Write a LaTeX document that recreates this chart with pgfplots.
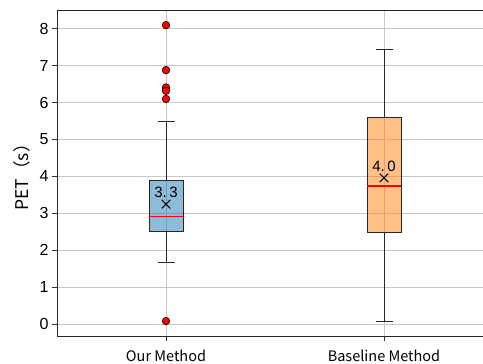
\documentclass[border=0pt]{standalone}
\usepackage{pgfplots}
\pgfplotsset{compat=1.18}
\usepgfplotslibrary{statistics}
\usepackage{fontspec}
\setmainfont{Liberation Sans}
\newfontfamily\cjk{Noto Sans CJK SC}
\definecolor{tabblue}{HTML}{1F77B4}
\definecolor{taborange}{HTML}{FF7F0E}
\definecolor{gridgray}{RGB}{200,200,200}
\begin{document}
\begin{tikzpicture}
\begin{axis}[
  name=ax,
  scale only axis,
  width=426pt, height=326pt,
  xmin=0.5, xmax=2.454,
  ymin=-0.325, ymax=8.51,
  axis x line=box, axis y line=left,
  y axis line style={-},
  axis line style={line width=0.8pt, black!85},
  xtick={1,2},
  xticklabels={Our Method, Baseline Method},
  xticklabel style={font=\cjk\fontsize{14.5}{16}\selectfont, yshift=-5pt},
  ytick={0,1,2,3,4,5,6,7,8},
  yticklabel style={font=\fontsize{16}{18}\selectfont},
  /pgf/number format/assume math mode=true,
  xtick pos=bottom, ytick pos=left,
  tick align=outside,
  major tick length=5pt,
  tick style={black!80, line width=0.8pt},
  grid=major,
  major grid style={gridgray, line width=0.9pt},
  ylabel={\cjk\fontsize{17.5}{19}\selectfont PET（s）},
  ylabel style={yshift=3pt},
  clip=false,
  boxplot/draw direction=y,
]
\addplot+[
  boxplot prepared={draw position=1, lower whisker=1.68, lower quartile=2.50,
    median=2.91, upper quartile=3.90, upper whisker=5.50,
    box extend=0.156, whisker extend=0.078,
    every median/.style={draw=red, line width=1.3pt}},
  draw=black!85, line width=0.8pt, fill=tabblue, fill opacity=0.5,
  mark=*, mark size=3.8pt, mark options={fill=red, draw=black, fill opacity=1, line width=0.6pt},
] table[row sep=\\, y index=0] {8.10\\6.88\\6.41\\6.32\\6.10\\0.08\\};
\addplot+[
  boxplot prepared={draw position=2, lower whisker=0.08, lower quartile=2.49,
    median=3.74, upper quartile=5.59, upper whisker=7.43,
    box extend=0.156, whisker extend=0.078,
    every median/.style={draw=red, line width=1.3pt}},
  draw=black!85, line width=0.8pt, fill=taborange, fill opacity=0.5,
  mark=none,
] coordinates {};
\addplot[only marks, mark=x, mark size=6pt, line width=1pt, black,
  point meta=explicit symbolic,
  nodes near coords,
  nodes near coords style={font=\fontsize{15}{17}\selectfont, anchor=south, yshift=4.5pt, black, inner sep=1pt}]
  coordinates {(1,3.25) [3.\hspace{2.5pt}3] (2,3.96) [4.\hspace{2.5pt}0]};
\end{axis}
\pgfresetboundingbox
\path ([xshift=-57pt,yshift=-28pt]ax.south west) rectangle ([xshift=426pt,yshift=10pt]ax.north west);
\end{tikzpicture}
\end{document}
